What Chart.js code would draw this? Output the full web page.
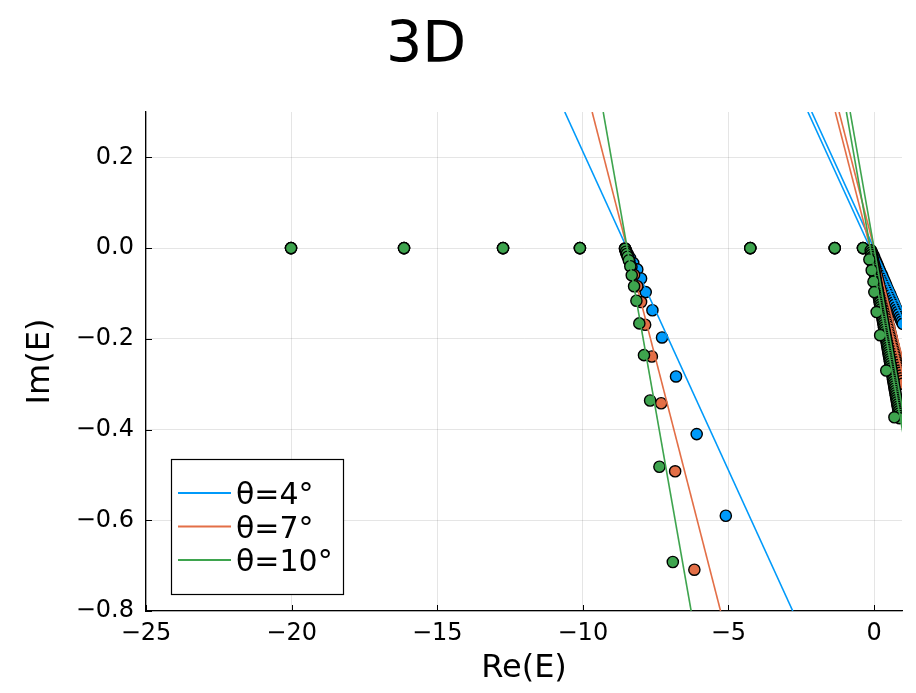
<!DOCTYPE html>
<html>
<head>
<meta charset="utf-8">
<title>3D</title>
<script src="https://cdn.jsdelivr.net/npm/chart.js@4.4.1/dist/chart.umd.min.js"></script>
<style>
  body { margin: 0; background: #fff; }
  canvas { display: block; }
</style>
</head>
<body>
<canvas id="grafico" width="916" height="693"></canvas>
<script>
// rótulos e cores de cada ângulo de rotação
const angulos = ['θ=4°', 'θ=7°', 'θ=10°'];
const cores = ['#009AFA', '#E36F47', '#3EA44E'];

// estados ligados no eixo real (iguais para todos os ângulos)
const estadosLigados = [-20.02, -16.14, -12.74, -10.10, -4.25, -1.35, -0.38];

// contínuo rodado a partir do limiar perto de -8.5
const limiarAzul = [[-8.55,-0.001],[-8.53,-0.004],[-8.50,-0.008],[-8.45,-0.014],[-8.38,-0.022],[-8.27,-0.033],
  [-8.13,-0.047],[-8.00,-0.067],[-7.84,-0.097],[-7.61,-0.137],[-7.28,-0.197],[-6.80,-0.283],[-6.09,-0.410],[-5.09,-0.590]];
const limiarLaranja = [[-8.55,-0.001],[-8.53,-0.006],[-8.50,-0.012],[-8.45,-0.019],[-8.40,-0.028],[-8.33,-0.041],
  [-8.24,-0.059],[-8.13,-0.084],[-8.00,-0.119],[-7.86,-0.169],[-7.63,-0.239],[-7.31,-0.342],[-6.83,-0.492],[-6.17,-0.709]];
const limiarVerde = [[-8.55,-0.002],[-8.52,-0.008],[-8.49,-0.013],[-8.46,-0.019],[-8.42,-0.027],[-8.37,-0.040],
  [-8.32,-0.060],[-8.24,-0.084],[-8.16,-0.116],[-8.06,-0.166],[-7.90,-0.236],[-7.69,-0.336],[-7.37,-0.482],[-6.91,-0.692]];

// contínuo denso perto de zero (pontos muito juntos, por isso a faixa preta)
const zeroAzul = [[-0.100,-0.005],[-0.065,-0.010],[-0.030,-0.015],[0.005,-0.020],[0.040,-0.026],[0.075,-0.031],
  [0.110,-0.036],[0.145,-0.041],[0.180,-0.047],[0.215,-0.052],[0.250,-0.057],[0.285,-0.062],[0.320,-0.068],
  [0.355,-0.073],[0.390,-0.078],[0.425,-0.083],[0.460,-0.089],[0.495,-0.094],[0.530,-0.099],[0.565,-0.104],
  [0.600,-0.110],[0.635,-0.115],[0.670,-0.120],[0.705,-0.125],[0.740,-0.131],[0.775,-0.136],[0.810,-0.141],
  [0.845,-0.146],[0.880,-0.152],[0.915,-0.157],[0.950,-0.162],[0.985,-0.167]];
const zeroLaranja = [[-0.100,-0.008],[-0.078,-0.014],[-0.056,-0.020],[-0.034,-0.026],[-0.012,-0.032],[0.010,-0.038],
  [0.032,-0.044],[0.054,-0.050],[0.076,-0.056],[0.098,-0.062],[0.120,-0.068],[0.142,-0.073],[0.164,-0.079],
  [0.186,-0.085],[0.208,-0.091],[0.230,-0.097],[0.252,-0.103],[0.274,-0.109],[0.296,-0.115],[0.318,-0.121],
  [0.340,-0.127],[0.362,-0.133],[0.384,-0.139],[0.406,-0.145],[0.428,-0.151],[0.450,-0.157],[0.472,-0.163],
  [0.494,-0.169],[0.516,-0.174],[0.538,-0.180],[0.560,-0.186],[0.582,-0.192],[0.604,-0.198],[0.626,-0.204],
  [0.648,-0.210],[0.670,-0.216],[0.692,-0.222],[0.714,-0.228],[0.736,-0.234],[0.758,-0.240],[0.780,-0.246],
  [0.802,-0.252],[0.824,-0.258],[0.846,-0.264],[0.868,-0.270],[0.890,-0.275],[0.912,-0.281],[0.934,-0.287],
  [0.956,-0.293],[0.978,-0.299]];
const zeroVerde = [[-0.117,-0.005],[-0.103,-0.010],[-0.090,-0.015],[-0.076,-0.020],[-0.063,-0.025],[-0.049,-0.030],
  [-0.036,-0.035],[-0.022,-0.040],[-0.009,-0.045],[0.005,-0.050],[0.019,-0.055],[0.032,-0.060],[0.046,-0.065],
  [0.059,-0.070],[0.073,-0.075],[0.086,-0.080],[0.100,-0.085],[0.113,-0.090],[0.127,-0.095],[0.140,-0.100],
  [0.154,-0.105],[0.167,-0.110],[0.181,-0.115],[0.194,-0.120],[0.208,-0.125],[0.221,-0.130],[0.235,-0.135],
  [0.248,-0.140],[0.262,-0.145],[0.275,-0.150],[0.289,-0.155],[0.302,-0.160],[0.316,-0.165],[0.329,-0.170],
  [0.343,-0.175],[0.356,-0.180],[0.370,-0.185],[0.383,-0.190],[0.397,-0.195],[0.410,-0.200],[0.424,-0.205],
  [0.437,-0.210],[0.451,-0.215],[0.464,-0.220],[0.478,-0.225],[0.491,-0.230],[0.505,-0.235],[0.518,-0.240],
  [0.532,-0.245],[0.545,-0.250],[0.559,-0.255],[0.572,-0.260],[0.586,-0.265],[0.599,-0.270],[0.613,-0.275],
  [0.626,-0.280],[0.640,-0.285],[0.653,-0.290],[0.667,-0.295],[0.680,-0.300],[0.694,-0.305],[0.707,-0.310],
  [0.721,-0.315],[0.734,-0.320],[0.748,-0.325],[0.761,-0.330],[0.775,-0.335],[0.788,-0.340],[0.802,-0.345],
  [0.815,-0.350],[0.829,-0.355],[0.842,-0.360],[0.856,-0.365],[0.869,-0.370],[0.883,-0.375]];
const zeroVerdeBorda = [[-0.16,-0.025],[-0.08,-0.049],[-0.02,-0.074],[0.01,-0.097],[0.09,-0.141],[0.21,-0.192],
  [0.42,-0.270],[0.70,-0.373]];

const retas4 = [[[-10.62,0.3],[-2.79,-0.8]], [[-2.27,0.3],[1.0,-0.159]], [[-2.14,0.3],[1.0,-0.141]]];
const retas7 = [[[-9.68,0.3],[-5.27,-0.8]], [[-1.33,0.3],[1.0,-0.282]], [[-1.20,0.3],[1.0,-0.249]]];
const retas10 = [[[-9.30,0.3],[-6.28,-0.8]], [[-0.95,0.3],[1.0,-0.411]], [[-0.82,0.3],[1.0,-0.364]]];

const pontos = [
  [...estadosLigados.map(x => [x, 0]), ...limiarAzul, ...zeroAzul],
  [...estadosLigados.map(x => [x, 0]), ...limiarLaranja, ...zeroLaranja],
  [...estadosLigados.map(x => [x, 0]), ...limiarVerde, ...zeroVerde, ...zeroVerdeBorda]
];
const retas = [retas4, retas7, retas10];

const datasets = [];
pontos.forEach((serie, i) => {
  datasets.push({
    data: serie.map(p => ({ x: p[0], y: p[1] })),
    backgroundColor: cores[i],
    borderColor: '#000',
    pointRadius: 5.6,
    pointBorderWidth: 1.4,
    showLine: false
  });
  retas[i].forEach(seg => {
    datasets.push({
      data: seg.map(p => ({ x: p[0], y: p[1] })),
      borderColor: cores[i],
      borderWidth: 1.6,
      pointRadius: 0,
      showLine: true
    });
  });
});
// o primeiro dataset fica por baixo
datasets.forEach((d, i) => { d.order = datasets.length - i; });

const menos = s => s.replace('-', '\u2212');

const extras = {
  id: 'extras',
  beforeDatasetsDraw(chart) {
    const { ctx, chartArea, scales } = chart;
    ctx.save();
    ctx.strokeStyle = '#000';
    ctx.lineWidth = 1;
    scales.x.ticks.forEach(t => {
      const px = Math.round(scales.x.getPixelForValue(t.value)) + 0.5;
      ctx.beginPath();
      ctx.moveTo(px, chartArea.bottom);
      ctx.lineTo(px, chartArea.bottom - 6);
      ctx.stroke();
    });
    scales.y.ticks.forEach(t => {
      const py = Math.round(scales.y.getPixelForValue(t.value)) + 0.5;
      ctx.beginPath();
      ctx.moveTo(chartArea.left, py);
      ctx.lineTo(chartArea.left + 6, py);
      ctx.stroke();
    });
    ctx.restore();
  },
  afterDatasetsDraw(chart) {
    // legenda dentro da área do gráfico, canto inferior esquerdo
    const { ctx } = chart;
    const caixa = { x: 171.5, y: 459.5, w: 172, h: 135 };
    ctx.save();
    ctx.fillStyle = '#fff';
    ctx.fillRect(caixa.x, caixa.y, caixa.w, caixa.h);
    ctx.strokeStyle = '#000';
    ctx.lineWidth = 1.2;
    ctx.strokeRect(caixa.x, caixa.y, caixa.w, caixa.h);
    ctx.font = '30px "DejaVu Sans"';
    ctx.textBaseline = 'alphabetic';
    ctx.textAlign = 'left';
    angulos.forEach((rotulo, i) => {
      const y = 493 + i * 33.5;
      ctx.strokeStyle = cores[i];
      ctx.lineWidth = 2;
      ctx.beginPath();
      ctx.moveTo(178, y);
      ctx.lineTo(231, y);
      ctx.stroke();
      ctx.fillStyle = '#000';
      ctx.fillText(rotulo, 236, y + 11);
    });
    ctx.restore();
  },
  afterDraw(chart) {
    const { ctx } = chart;
    ctx.save();
    ctx.fillStyle = '#000';
    ctx.font = '57px "DejaVu Sans"';
    ctx.textAlign = 'center';
    ctx.textBaseline = 'alphabetic';
    ctx.fillText('3D', 426, 62);
    ctx.restore();
  }
};

Chart.defaults.font.family = '"DejaVu Sans", sans-serif';
Chart.defaults.color = '#000';

const ctx = document.getElementById('grafico').getContext('2d');
new Chart(ctx, {
  type: 'scatter',
  data: { datasets: datasets },
  options: {
    responsive: false,
    animation: false,
    layout: { padding: { top: 112, right: 14, left: 0, bottom: 0 } },
    plugins: {
      legend: { display: false },
      tooltip: { enabled: false },
      title: { display: false }
    },
    scales: {
      x: {
        type: 'linear',
        min: -25,
        max: 0.96,
        ticks: {
          stepSize: 5,
          includeBounds: false,
          padding: 8,
          font: { size: 24 },
          callback: v => menos(String(v))
        },
        grid: { color: 'rgba(0,0,0,0.1)', lineWidth: 1, drawTicks: false },
        border: { display: true, color: '#000', width: 1.3 },
        title: { display: true, text: 'Re(E)', font: { size: 32 }, padding: { top: 0, bottom: 5 } },
        afterFit(escala) { escala.height = 82; }
      },
      y: {
        type: 'linear',
        min: -0.8,
        max: 0.3,
        ticks: {
          stepSize: 0.2,
          includeBounds: false,
          padding: 12,
          font: { size: 24 },
          callback: v => menos(Math.abs(v) < 1e-9 ? '0.0' : v.toFixed(1))
        },
        grid: { color: 'rgba(0,0,0,0.1)', lineWidth: 1, drawTicks: false },
        border: { display: true, color: '#000', width: 1.3 },
        title: { display: true, text: 'Im(E)', font: { size: 32 }, padding: { top: 21, bottom: 0 } },
        afterFit(escala) { escala.width = 146; }
      }
    }
  },
  plugins: [extras]
});
</script>
</body>
</html>
